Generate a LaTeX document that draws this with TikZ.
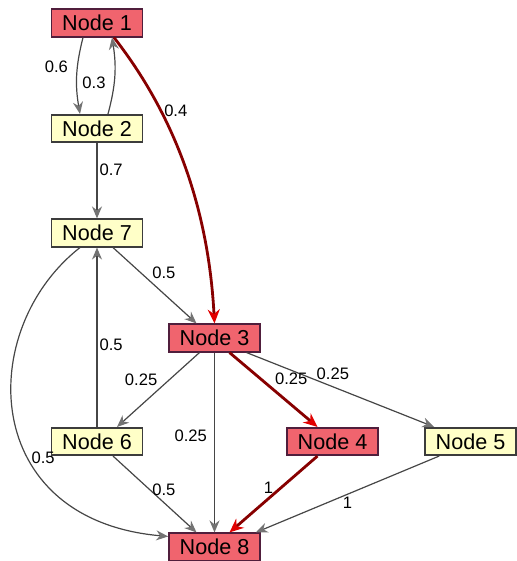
\documentclass[tikz,border=0pt]{standalone}
\usepackage{fontspec}
\setmainfont{Liberation Sans}
\usetikzlibrary{arrows.meta}
\definecolor{hotfill}{RGB}{240,100,110}
\definecolor{hotline}{RGB}{80,30,60}
\definecolor{coldfill}{RGB}{255,255,200}
\definecolor{coldline}{RGB}{60,60,60}
\definecolor{linkgrey}{RGB}{70,70,70}
\definecolor{tipgrey}{RGB}{115,115,115}
\definecolor{pathred}{RGB}{135,0,0}
\definecolor{tipred}{RGB}{225,0,0}

\begin{document}
\begin{tikzpicture}[x=0.5pt,y=0.5pt,
  hot/.style={draw=hotline,fill=hotfill,line width=0.8pt,minimum width=45.5pt,minimum height=13.75pt,inner sep=0pt,font=\fontsize{10.8}{12}\selectfont},
  cold/.style={hot,draw=coldline,fill=coldfill},
  wt/.style={font=\fontsize{8.3}{10}\selectfont,inner sep=1pt},
  link/.style={draw=linkgrey,line width=0.6pt,-{Stealth[length=6pt,width=5pt,color=tipgrey]}},
  hotlink/.style={draw=pathred,line width=1.4pt,-{Stealth[length=7pt,width=6pt,color=tipred]}}]
  \useasboundingbox (0,0) rectangle (516,561);
  % nodes, top to bottom
  \node[hot] (n1) at (97,538) {Node 1};
  \node[cold] (n2) at (97,432.5) {Node 2};
  \node[cold] (n7) at (97,328) {Node 7};
  \node[hot] (n3) at (214.5,223) {Node 3};
  \node[cold] (n6) at (97,119.5) {Node 6};
  \node[hot] (n4) at (332.5,119.5) {Node 4};
  \node[cold] (n5) at (470.5,119.5) {Node 5};
  \node[hot] (n8) at (214.5,14) {Node 8};
  % grey links
  \draw[link] ([xshift=-7pt]n1.south) to[bend right=12] node[wt,left,pos=.37,xshift=-3.5pt] {0.6} ([xshift=-8.5pt]n2.north);
  \draw[link] ([xshift=5.5pt]n2.north) to[bend right=12] node[wt,left,pos=.4,xshift=-3pt] {0.3} ([xshift=7.5pt]n1.south);
  \draw[link] (n2) -- node[wt,right,pos=.35] {0.7} (n7);
  \draw[link] ([xshift=8pt]n7.south) -- node[wt,anchor=south west,pos=.44] {0.5} ([xshift=-9pt]n3.north);
  \draw[link] (n6) -- node[wt,right,pos=.46] {0.5} (n7);
  \draw[link] ([xshift=-7.5pt]n3.south) -- node[wt,anchor=south east,pos=.48] {0.25} ([xshift=10pt]n6.north);
  \draw[link] (n3) -- node[wt,left,pos=.46,xshift=-2.5pt] {0.25} (n8);
  \draw[link] ([xshift=16pt]n3.south) -- node[wt,anchor=south west,pos=.36,yshift=-1.5pt] {0.25} ([xshift=5pt]n5.north west);
  \draw[link] ([xshift=8pt]n6.south) -- node[wt,anchor=west,pos=.44] {0.5} ([xshift=-9pt]n8.north);
  \draw[link] ([xshift=-8.5pt]n7.south) .. controls (-25,231) and (-20,41) .. node[wt,anchor=west,pos=.62] {0.5} ([yshift=-2pt]n8.north west);
  \draw[link] ([xshift=7.5pt]n5.south west) -- node[wt,anchor=north,pos=.5] {1} ([xshift=-2.5pt]n8.north east);
  % red path
  \draw[hotlink] ([xshift=8.5pt]n1.south) to[out=-52,in=93,looseness=.9] node[wt,right,pos=.28] {0.4} (n3.north);
  \draw[hotlink] ([xshift=7.5pt]n3.south) -- node[wt,anchor=south west,pos=.48] {0.25} ([xshift=-7.5pt]n4.north);
  \draw[hotlink] ([xshift=-7.5pt]n4.south) -- node[wt,left,pos=.42,xshift=-2pt] {1} ([xshift=7.5pt]n8.north);
\end{tikzpicture}
\end{document}
